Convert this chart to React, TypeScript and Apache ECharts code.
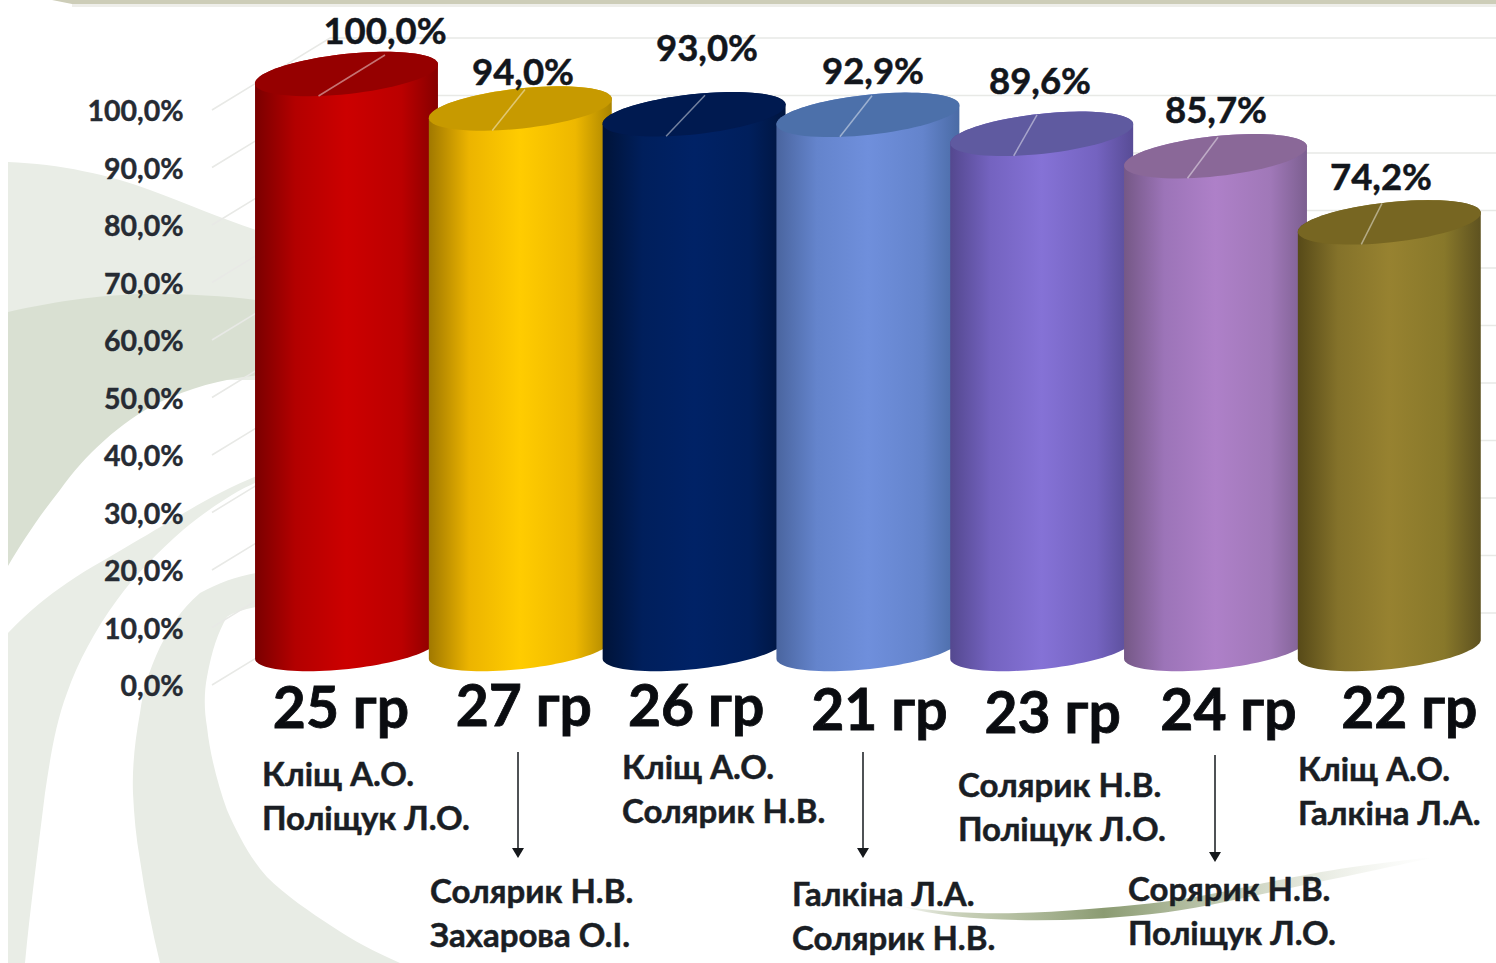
import React, { useEffect, useRef } from "react";
import * as echarts from "echarts";

const categories = ["25 гр", "27 гр", "26 гр", "21 гр", "23 гр", "24 гр", "22 гр"];
const values = [100.0, 94.0, 93.0, 92.9, 89.6, 85.7, 74.2];
const tickValues = [0, 10, 20, 30, 40, 50, 60, 70, 80, 90, 100];
const teachers = [
  ["Кліщ А.О.", "Поліщук Л.О."],
  ["Солярик Н.В.", "Захарова О.І."],
  ["Кліщ А.О.", "Солярик Н.В."],
  ["Галкіна Л.А.", "Солярик Н.В."],
  ["Солярик Н.В.", "Поліщук Л.О."],
  ["Сорярик Н.В.", "Поліщук Л.О."],
  ["Кліщ А.О.", "Галкіна Л.А."],
];

// layout (pixels on the 1496x963 page)
const teacherX = [262, 430, 622, 792, 958, 1128, 1298];
const teacherY = [773, 890, 766, 893, 784, 888, 768];
const valueLabelX = [385, 523, 707, 873, 1040, 1216, 1381];
const valueLabelY = [30, 71, 47, 70, 80, 109, 176];
const leaderX = [385, 525, 705, 872, 1037, 1218, 1382];
const catDx = [-5.5, 3.5, 2, 11.5, 11, 13, 20];
const catDy = [3, 0, 0, 8, 13, 8, 3];
const arrows = [
  [518, 752, 858],
  [863, 752, 858],
  [1215, 755, 862],
];

// colours: edge, shoulder, centre, shoulder, edge, top cap
const palettes = [
  ["#7a0000", "#b30000", "#cc0000", "#bb0000", "#860000", "#960000"],
  ["#a07800", "#ecb400", "#ffcc00", "#eeb800", "#aa8400", "#c79a00"],
  ["#001338", "#001f5c", "#002266", "#001f5c", "#00153f", "#001a50"],
  ["#4a659f", "#6484cc", "#6f8fdc", "#6484cc", "#4a6ba5", "#4c70aa"],
  ["#54488f", "#7463c0", "#8572d6", "#7463c0", "#584c96", "#5f5aa0"],
  ["#755886", "#9c74b8", "#ae80c8", "#a078b8", "#7c5f90", "#8a6898"],
  ["#574a18", "#84722a", "#978230", "#88782a", "#5e5220", "#776622"],
];

const FONT = 'Lato, "Noto Sans", sans-serif';
const INK = "#12161c";
const BAR_SHIFT = 36; // the 3D floor sits above the axis labels
const A = 92;
const B = 20;
const TILT = (6.2 * Math.PI) / 180;

const bgPaths = [
  {
    d: "M8 162 C60 164 110 175 150 190 C190 205 225 220 262 232 L262 380 L8 380 Z",
    fill: "#e9ede6",
  },
  {
    d: "M8 312 C60 300 110 294 150 294 C190 294 230 296 262 301 L262 375 C225 378 190 388 160 402 C120 422 85 455 60 490 C40 515 22 542 8 566 Z",
    fill: "#d9e0d2",
  },
  {
    d: "M8 633 C30 610 48 596 67 583 C90 567 112 556 133 543 C170 522 215 492 262 474 L262 480 C235 490 205 512 183 530 C158 552 135 575 117 600 C95 630 78 662 67 693 C55 725 50 760 45 793 C38 850 30 910 25 963 L8 963 Z",
    fill: "#e9ede6",
  },
  {
    d: "M262 572 C240 575 220 582 200 593 C180 610 170 628 160 647 C150 668 143 690 140 713 C135 740 132 768 133 793 C134 815 136 838 140 860 C145 895 152 930 160 963 L400 963 C375 952 352 940 333 927 C310 912 285 895 267 877 C250 858 238 835 227 810 C218 785 210 755 207 727 C204 710 204 692 207 677 C212 650 218 632 227 617 C235 612 245 609 262 606 Z",
    fill: "#e8ece5",
  },
];
const swooshPath =
  "M900 906 C950 914 1010 916 1089 909 C1130 906 1170 902 1206 895 C1260 885 1320 868 1436 857 C1340 878 1280 890 1210 905 C1170 913 1130 917 1089 919 C1020 922 950 920 900 906 Z";

bgPaths.forEach((p, i) => {
  echarts.graphic.registerShape("bg" + i, echarts.graphic.extendPath(p.d, {}));
});
echarts.graphic.registerShape("swoosh", echarts.graphic.extendPath(swooshPath, {}));

function ellipsePoint(cx: number, cy: number, t: number): number[] {
  const ca = Math.cos(t);
  const sa = Math.sin(t);
  return [
    cx + A * ca * Math.cos(TILT) + B * sa * Math.sin(TILT),
    cy - A * ca * Math.sin(TILT) + B * sa * Math.cos(TILT),
  ];
}

function arc(cx: number, cy: number, from: number, to: number, n = 48): number[][] {
  const out: number[][] = [];
  for (let k = 0; k <= n; k++) out.push(ellipsePoint(cx, cy, from + ((to - from) * k) / n));
  return out;
}

function hGrad(stops: string[]) {
  return new echarts.graphic.LinearGradient(
    0,
    0,
    1,
    0,
    [
      { offset: 0, color: stops[0] },
      { offset: 0.22, color: stops[1] },
      { offset: 0.5, color: stops[2] },
      { offset: 0.8, color: stops[3] },
      { offset: 1, color: stops[4] },
    ],
  );
}

function renderCylinder(params: any, api: any) {
  const i = params.dataIndex;
  const top = api.coord([api.value(0), api.value(1)]);
  const bottom = api.coord([api.value(0), 0]);
  const cx = top[0];
  const cyT = top[1] - BAR_SHIFT;
  const cyB = bottom[1] - BAR_SHIFT;
  const p = palettes[i];
  const body = [...arc(cx, cyT, Math.PI, 2 * Math.PI), ...arc(cx, cyB, 0, Math.PI)];
  const cap = arc(cx, cyT, 0, 2 * Math.PI, 72);
  return {
    type: "group",
    children: [
      { type: "polygon", shape: { points: body }, style: { fill: hGrad(p) } },
      { type: "polygon", shape: { points: cap }, style: { fill: p[5] } },
      {
        type: "line",
        shape: { x1: leaderX[i], y1: cyT - 19, x2: cx - 28, y2: cyT + 22 },
        style: { stroke: "rgba(255,255,255,0.45)", lineWidth: 1.5 },
      },
    ],
  };
}

function renderWall(_params: any, api: any) {
  const y = api.coord([0, api.value(1)])[1];
  return {
    type: "polyline",
    shape: { points: [[212, y], [330, y - 72], [1496, y - 72]] },
    style: { stroke: "#e8e9e6", lineWidth: 1.6, fill: "none" },
  };
}

function renderValueLabel(params: any, api: any) {
  const i = params.dataIndex;
  const v = api.value(1);
  return {
    type: "text",
    style: {
      text: v.toFixed(1).replace(".", ",") + "%",
      x: valueLabelX[i],
      y: valueLabelY[i],
      align: "center",
      verticalAlign: "middle",
      fontFamily: FONT,
      fontWeight: "bold",
      fontSize: 36.5,
      fill: INK,
      stroke: INK,
      lineWidth: 0.5,
    },
  };
}

function catRich() {
  const rich: Record<string, any> = {};
  categories.forEach((_, i) => {
    const dx = catDx[i];
    rich["c" + i] = {
      fontFamily: FONT,
      fontWeight: "bold",
      fontSize: 57,
      lineHeight: 52,
      color: "#0a0c10",
      textBorderColor: "#0a0c10",
      textBorderWidth: 0.8,
      padding: [catDy[i], dx < 0 ? -2 * dx : 0, 0, dx > 0 ? 2 * dx : 0],
    };
  });
  return rich;
}

function teacherGraphics() {
  const out: any[] = [];
  teachers.forEach((pair, i) => {
    pair.forEach((name, j) => {
      out.push({
        type: "text",
        x: teacherX[i],
        y: teacherY[i] + j * 43.5,
        z: 5,
        style: {
          text: name,
          fontFamily: FONT,
          fontWeight: "bold",
          fontSize: 33,
          fill: "#1a1e24",
          stroke: "#1a1e24",
          lineWidth: 0.5,
          align: "left",
          verticalAlign: "middle",
        },
      });
    });
  });
  return out;
}

function arrowGraphics() {
  const out: any[] = [];
  arrows.forEach(([x, y1, y2]) => {
    out.push({
      type: "line",
      z: 5,
      shape: { x1: x, y1, x2: x, y2: y2 - 8 },
      style: { stroke: "#15181c", lineWidth: 1.5 },
    });
    out.push({
      type: "polygon",
      z: 5,
      shape: { points: [[x - 6, y2 - 10], [x + 6, y2 - 10], [x, y2]] },
      style: { fill: "#15181c" },
    });
  });
  return out;
}

export default function App() {
  const ref = useRef<HTMLDivElement>(null);
  useEffect(() => {
    document.body.style.margin = "0";
    const chart = echarts.init(ref.current!, null, { renderer: "svg" });
    chart.setOption({
      animation: false,
      backgroundColor: "#ffffff",
      grid: { left: 259.6, width: 1216.6, top: 110, height: 575, containLabel: false },
      xAxis: {
        type: "category",
        data: categories,
        axisLine: { show: false },
        axisTick: { show: false },
        splitLine: { show: false },
        axisLabel: {
          interval: 0,
          margin: -7,
          hideOverlap: false,
          formatter: (_v: string, i: number) => `{c${i}|${categories[i]}}`,
          rich: catRich(),
        },
      },
      yAxis: {
        type: "value",
        min: 0,
        max: 100,
        interval: 10,
        axisLine: { show: false },
        axisTick: { show: false },
        splitLine: { show: false },
        axisLabel: {
          margin: 76,
          fontFamily: FONT,
          fontWeight: "bold",
          fontSize: 28.5,
          color: "#262b33",
          textBorderColor: "#262b33",
          textBorderWidth: 0.4,
          formatter: (v: number) => v.toFixed(1).replace(".", ",") + "%",
        },
      },
      graphic: [
        ...bgPaths.map((p, i) => ({
          type: "bg" + i,
          x: 0,
          y: 0,
          z: -10,
          silent: true,
          style: { fill: p.fill },
        })),
        {
          type: "swoosh",
          x: 0,
          y: 0,
          z: -9,
          silent: true,
          style: {
            fill: new echarts.graphic.LinearGradient(0, 0, 1, 0, [
              { offset: 0, color: "rgba(150,165,125,0)" },
              { offset: 0.12, color: "rgba(185,195,165,0.8)" },
              { offset: 0.38, color: "#8b9b72" },
              { offset: 0.6, color: "rgba(150,165,125,0.6)" },
              { offset: 0.85, color: "rgba(200,208,185,0.25)" },
              { offset: 1, color: "rgba(220,225,210,0)" },
            ]),
          },
        },
        {
          type: "polygon",
          z: -8,
          silent: true,
          shape: { points: [[52, 0], [1496, 0], [1496, 4], [72, 4]] },
          style: { fill: "#cdcdb8" },
        },
        {
          type: "rect",
          z: -8,
          silent: true,
          shape: { x: 72, y: 4, width: 1424, height: 3 },
          style: { fill: "#eeeeea" },
        },
        ...teacherGraphics(),
        ...arrowGraphics(),
      ],
      series: [
        {
          type: "custom",
          name: "wall",
          silent: true,
          z: 1,
          renderItem: renderWall,
          encode: { x: 0, y: 1 },
          data: tickValues.map((v) => [0, v]),
        },
        {
          type: "custom",
          name: "cylinders",
          z: 2,
          renderItem: renderCylinder,
          encode: { x: 0, y: 1 },
          data: values.map((v, i) => [i, v]),
        },
        {
          type: "custom",
          name: "labels",
          z: 3,
          silent: true,
          renderItem: renderValueLabel,
          encode: { x: 0, y: 1 },
          data: values.map((v, i) => [i, v]),
        },
      ],
    });
    return () => chart.dispose();
  }, []);
  return <div ref={ref} style={{ width: 1496, height: 963 }} />;
}
